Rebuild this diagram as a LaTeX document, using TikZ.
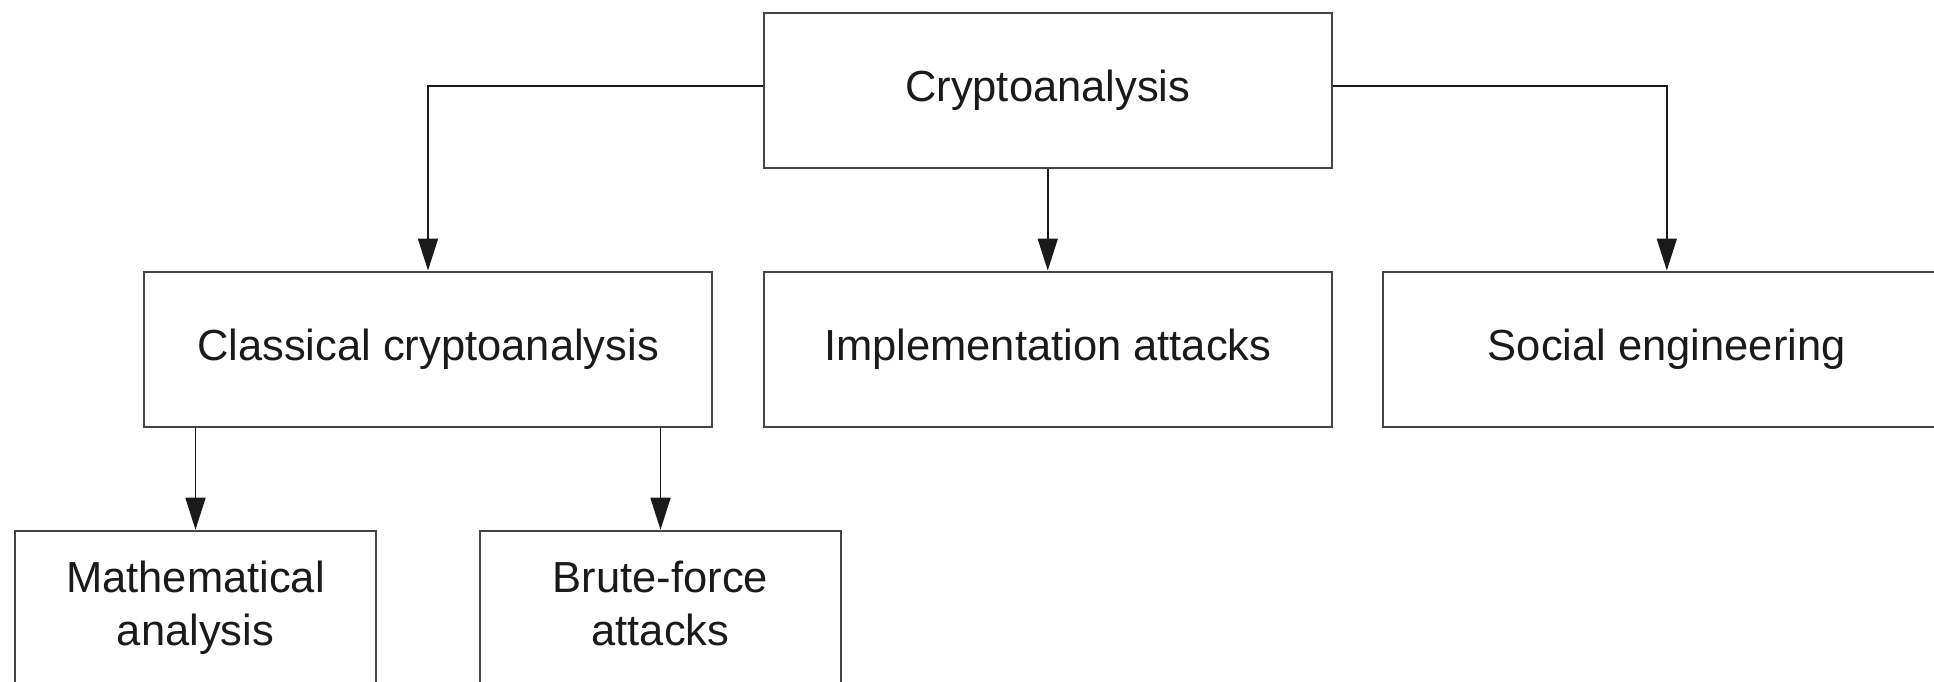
\documentclass[tikz,border=0pt]{standalone}
\usepackage{fontspec}
\setmainfont{Liberation Sans}
\usetikzlibrary{arrows.meta}
\definecolor{edge}{HTML}{444444}
\definecolor{ink}{HTML}{1A1A1A}
\begin{document}
\begin{tikzpicture}[x=1pt,y=-1pt,
  box/.style={draw=edge,line width=2pt,fill=white,rectangle,inner sep=0pt,
    minimum height=155pt,text=ink,font=\fontsize{43.5}{53}\selectfont,align=center},
  wide/.style={box,minimum width=568pt},
  narrow/.style={box,minimum width=361pt},
  arr/.style={draw=ink,line width=1.8pt,-{Triangle[length=32pt,width=20pt]}}]
\useasboundingbox (0,0) rectangle (1934,681);
\clip (0,0) rectangle (1934,681);
\node[wide] (top) at (1047.75,90.65) {Cryptoanalysis};
\node[wide] (cls) at (428,349) {Classical cryptoanalysis};
\node[wide] (imp) at (1047.75,349) {Implementation attacks};
\node[wide] (soc) at (1666.8,349) {Social engineering};
\node[narrow] (mat) at (195.5,608.2) {\strut Mathematical\\analysis\strut};
\node[narrow] (bru) at (660.5,608.2) {\strut Brute-force\\attacks\strut};
\draw[arr] ([yshift=4.3pt]top.west) -| (cls.north);
\draw[arr] ([yshift=4.3pt]top.east) -| (soc.north);
\draw[arr] (top.south) -- (imp.north);
\draw[arr] (cls.south -| mat.north) -- (mat.north);
\draw[arr] (cls.south -| bru.north) -- (bru.north);
\end{tikzpicture}
\end{document}
